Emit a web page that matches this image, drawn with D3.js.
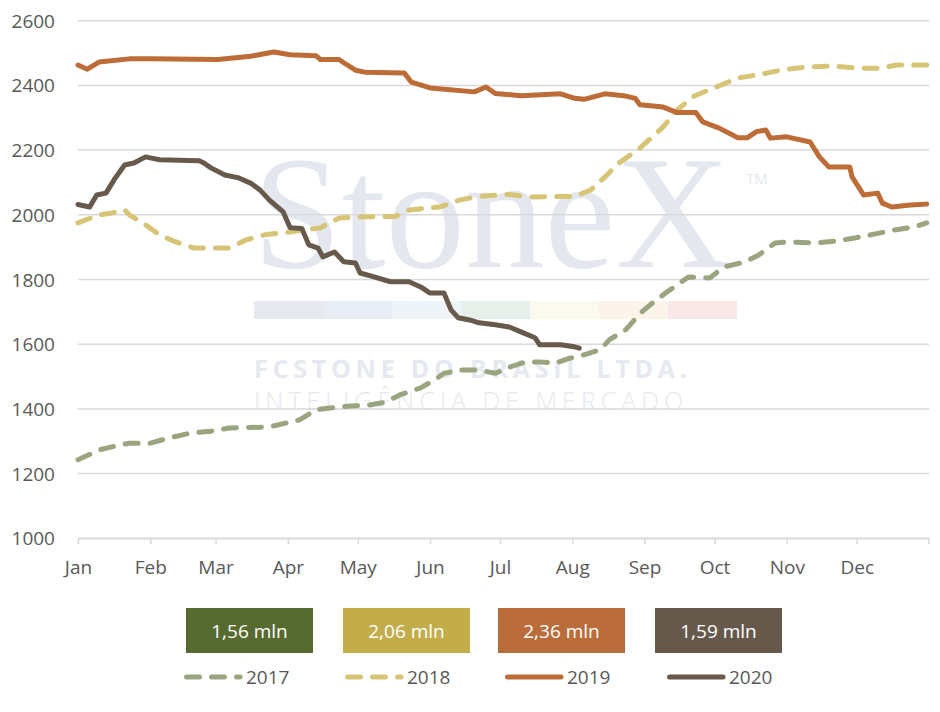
<!DOCTYPE html>
<html>
<head>
<meta charset="utf-8">
<script src="https://cdn.jsdelivr.net/npm/d3@7"></script>
<style>
  body { margin: 0; background: #fff; }
  svg { display: block; font-family: 'Open Sans', sans-serif; }
</style>
</head>
<body>
<svg id="chart" width="940" height="712"></svg>
<script>

// Series: [day of year (0 = Jan 1), value]
const year2017 = [
  [0, 1243], [9, 1273], [14, 1282], [22, 1294], [31, 1294], [39, 1310], [48, 1325],
  [57, 1331], [65, 1341], [82, 1344], [89, 1356], [95, 1366], [102, 1397], [108, 1403],
  [117, 1409], [125, 1412], [132, 1421], [138, 1443], [147, 1465], [153, 1490],
  [157, 1510], [164, 1520], [172, 1520], [179, 1510], [185, 1529], [192, 1545],
  [198, 1545], [205, 1542], [211, 1557], [217, 1567], [224, 1583], [228, 1614],
  [235, 1645], [241, 1695], [247, 1731], [252, 1758], [258, 1789], [262, 1808],
  [271, 1805], [277, 1839], [286, 1854], [292, 1876], [299, 1913], [305, 1916],
  [316, 1913], [325, 1919], [333, 1928], [342, 1941], [350, 1953], [359, 1963], [364, 1975]
]
const year2018 = [
  [0, 1975], [9, 2000], [14, 2005], [20, 2015], [22, 2000], [29, 1969], [35, 1938],
  [42, 1916], [50, 1897], [65, 1897], [72, 1922], [80, 1938], [91, 1947], [104, 1960],
  [112, 1990], [119, 1993], [136, 1995], [142, 2015], [155, 2024], [164, 2046],
  [172, 2057], [185, 2063], [194, 2055], [213, 2057], [220, 2077], [226, 2117],
  [232, 2160], [241, 2206], [251, 2272], [257, 2324], [264, 2366], [274, 2396],
  [283, 2423], [292, 2433], [302, 2448], [313, 2457], [324, 2460], [335, 2453],
  [344, 2453], [351, 2463], [364, 2463]
]
const year2019 = [
  [0, 2463], [4, 2450], [9, 2472], [22, 2482], [31, 2482], [60, 2480], [74, 2490],
  [84, 2503], [91, 2495], [102, 2492], [104, 2480], [112, 2480], [114, 2470],
  [119, 2447], [123, 2441], [140, 2438], [143, 2410], [151, 2392], [170, 2380],
  [175, 2395], [179, 2375], [190, 2368], [207, 2374], [213, 2360], [217, 2357],
  [226, 2374], [235, 2367], [239, 2360], [241, 2340], [251, 2333], [257, 2316],
  [265, 2316], [268, 2287], [275, 2268], [283, 2238], [287, 2238], [291, 2257],
  [295, 2262], [297, 2237], [304, 2241], [314, 2225], [318, 2179], [322, 2148],
  [331, 2148], [332, 2117], [337, 2061], [343, 2067], [345, 2036], [349, 2024],
  [357, 2030], [364, 2033]
]
const year2020 = [
  [0, 2032], [5, 2024], [8, 2061], [12, 2067], [16, 2114], [20, 2154], [24, 2160],
  [29, 2179], [31, 2176], [35, 2170], [52, 2167], [54, 2160], [57, 2145], [63, 2123],
  [69, 2114], [74, 2098], [78, 2077], [82, 2046], [88, 2009], [91, 1960], [96, 1958],
  [99, 1907], [103, 1897], [105, 1870], [110, 1885], [114, 1855], [119, 1851],
  [121, 1820], [127, 1808], [134, 1793], [142, 1793], [147, 1777], [151, 1758],
  [157, 1758], [160, 1706], [163, 1682], [168, 1675], [172, 1666], [179, 1660],
  [185, 1653], [190, 1638], [196, 1620], [198, 1598], [207, 1598], [213, 1592], [215, 1588]
]

const years = ['2017', '2018', '2019', '2020']
const totals = ['1,56 mln', '2,06 mln', '2,36 mln', '1,59 mln']
const yTicks = [1000, 1200, 1400, 1600, 1800, 2000, 2200, 2400, 2600]

const series = [
  { name: '2017', data: year2017, color: '#9aa57f', dash: '13,12' },
  { name: '2018', data: year2018, color: '#d6c577', dash: '13,12' },
  { name: '2019', data: year2019, color: '#bd6c37', dash: null },
  { name: '2020', data: year2020, color: '#67594c', dash: null }
]
const box_colors = ['#576a2f', '#c3ad4a', '#ba6d3a', '#66594c']

const svg = d3.select('#chart')
const margin = { left: 78, right: 929, top: 20.7, bottom: 538.3 }

const x = d3.scaleTime()
  .domain([new Date(2019, 0, 1), new Date(2020, 0, 1)])
  .range([margin.left, margin.right])
const y = d3.scaleLinear()
  .domain([1000, 2600])
  .range([margin.bottom, margin.top])

const to_date = d => new Date(2019, 0, 1 + d)

// Watermark
let wm = svg.append('g').attr('class', 'watermark')
wm.append('text')
  .attr('x', 253).attr('y', 267)
  .attr('font-family', 'Liberation Serif, DejaVu Serif, serif')
  .attr('font-size', 162)
  .attr('textLength', 477)
  .attr('lengthAdjust', 'spacingAndGlyphs')
  .attr('fill', '#e4e8ee')
  .text('StoneX')
wm.append('text')
  .attr('x', 746).attr('y', 184)
  .attr('font-size', 15)
  .attr('fill', '#e4e8ee')
  .text('TM')
const strip_colors = ['#e6e9ef', '#e8ecf4', '#eff4f9', '#e7efea', '#fbfaee', '#fcf4ea', '#f8e8e8']
wm.selectAll('rect.strip')
  .data(strip_colors)
  .enter()
  .append('rect')
    .attr('class', 'strip')
    .attr('x', (d, i) => 254 + i * 69)
    .attr('y', 301)
    .attr('width', 69)
    .attr('height', 18)
    .attr('fill', d => d)
wm.append('text')
  .attr('x', 254).attr('y', 378)
  .attr('font-size', 25)
  .attr('font-weight', 'bold')
  .attr('textLength', 433)
  .attr('lengthAdjust', 'spacing')
  .attr('fill', '#e6e9ef')
  .text('FCSTONE DO BRASIL LTDA.')
wm.append('text')
  .attr('x', 254).attr('y', 410)
  .attr('font-size', 25)
  .attr('font-weight', 300)
  .attr('textLength', 429)
  .attr('lengthAdjust', 'spacing')
  .attr('fill', '#e6e9ef')
  .text('INTELIGÊNCIA DE MERCADO')

// Gridlines and y labels
svg.append('g')
  .selectAll('line')
  .data(yTicks)
  .enter()
  .append('line')
    .attr('x1', margin.left)
    .attr('x2', margin.right)
    .attr('y1', d => y(d))
    .attr('y2', d => y(d))
    .attr('stroke', '#d9d9d9')
    .attr('stroke-width', 1.5)

svg.append('g')
  .selectAll('text')
  .data(yTicks)
  .enter()
  .append('text')
    .attr('x', 55)
    .attr('y', d => y(d) + 7)
    .attr('text-anchor', 'end')
    .attr('font-size', 19)
    .attr('fill', '#595959')
    .text(d => d)

// X axis, one label per month start
const months = d3.timeMonth.range(new Date(2019, 0, 1), new Date(2020, 0, 1))
let x_axis = svg.append('g')
  .attr('transform', `translate(0,${margin.bottom})`)
  .call(d3.axisBottom(x)
    .tickValues(months)
    .tickFormat(d3.timeFormat('%b'))
    .tickSize(6)
    .tickSizeOuter(0))
x_axis.select('.domain').attr('stroke', '#d9d9d9').attr('stroke-width', 1.5)
x_axis.selectAll('.tick line').attr('stroke', '#d9d9d9').attr('stroke-width', 1.5)
x_axis.selectAll('.tick text')
  .attr('font-family', 'Open Sans, sans-serif')
  .attr('font-size', 19)
  .attr('fill', '#595959')
  .attr('dy', null)
  .attr('y', 36)
// closing tick at the end of December
x_axis.append('line')
  .attr('x1', margin.right).attr('x2', margin.right)
  .attr('y1', 0).attr('y2', 6)
  .attr('stroke', '#d9d9d9').attr('stroke-width', 1.5)

// Lines
const line = d3.line()
  .x(d => x(to_date(d[0])))
  .y(d => y(d[1]))

svg.append('g')
  .selectAll('path')
  .data(series)
  .enter()
  .append('path')
    .attr('d', d => line(d.data))
    .attr('fill', 'none')
    .attr('stroke', d => d.color)
    .attr('stroke-width', 5)
    .attr('stroke-linecap', 'round')
    .attr('stroke-linejoin', 'round')
    .attr('stroke-dasharray', d => d.dash)

// Legend boxes
const box_x = [186, 343, 498, 655]
let boxes = svg.append('g')
boxes.selectAll('rect')
  .data(totals)
  .enter()
  .append('rect')
    .attr('x', (d, i) => box_x[i])
    .attr('y', 608)
    .attr('width', 127)
    .attr('height', 45)
    .attr('fill', (d, i) => box_colors[i])
boxes.selectAll('text')
  .data(totals)
  .enter()
  .append('text')
    .attr('x', (d, i) => box_x[i] + 63.5)
    .attr('y', 638)
    .attr('text-anchor', 'middle')
    .attr('font-size', 19)
    .attr('fill', '#ffffff')
    .text(d => d)

// Legend lines
const key_x = [184, 345, 505, 667]
let keys = svg.append('g')
keys.selectAll('line')
  .data(series)
  .enter()
  .append('line')
    .attr('x1', (d, i) => key_x[i] + 2.5)
    .attr('x2', (d, i) => key_x[i] + 56)
    .attr('y1', 677)
    .attr('y2', 677)
    .attr('stroke', d => d.color)
    .attr('stroke-width', 5)
    .attr('stroke-linecap', 'round')
    .attr('stroke-dasharray', d => d.dash)
keys.selectAll('text')
  .data(years)
  .enter()
  .append('text')
    .attr('x', (d, i) => key_x[i] + 62)
    .attr('y', 684)
    .attr('font-size', 19)
    .attr('fill', '#595959')
    .text(d => d)

</script>
</body>
</html>
